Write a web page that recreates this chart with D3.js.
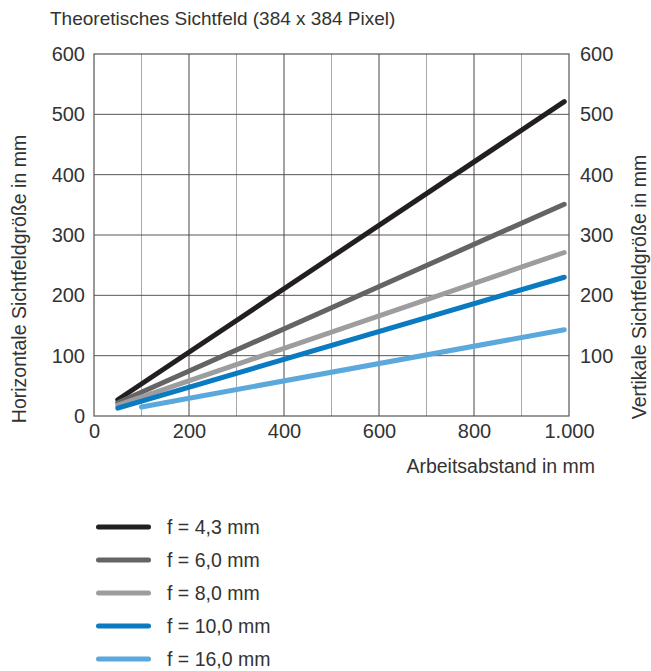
<!DOCTYPE html>
<html>
<head>
<meta charset="utf-8">
<script src="https://cdn.jsdelivr.net/npm/d3@7"></script>
<style>
  body { margin: 0; background: #fff; }
  svg { font-family: "Liberation Sans", Arial, sans-serif; }
</style>
</head>
<body>
<svg id="chart" width="651" height="671"></svg>
<script>
// data
var series = ["f = 4,3 mm", "f = 6,0 mm", "f = 8,0 mm", "f = 10,0 mm", "f = 16,0 mm"];
var colors = ["#231f20", "#646464", "#9d9d9f", "#0a7bc1", "#5aa8dc"];
var startX = [50, 50, 50, 50, 100];
var startY = [27, 22, 18, 13, 15];
var endX = [990, 990, 990, 990, 990];
var endY = [521, 351, 271, 230, 143];
var xTicks = [0, 200, 400, 600, 800, 1000];
var xMinor = [100, 300, 500, 700, 900];
var yTicks = [0, 100, 200, 300, 400, 500, 600];
var yRightTicks = [100, 200, 300, 400, 500, 600];

var svg = d3.select("#chart");
var pLeft = 94, pRight = 569, pTop = 54, pBottom = 416;

var x = d3.scaleLinear().domain([0, 1000]).range([pLeft, pRight]);
var y = d3.scaleLinear().domain([0, 600]).range([pBottom, pTop]);
var fmt = function (d) { return d === 1000 ? "1.000" : d; };

svg.append("text")
  .attr("x", 50).attr("y", 25)
  .attr("font-size", 19).attr("fill", "#333")
  .text("Theoretisches Sichtfeld (384 x 384 Pixel)");

// grid
svg.append("g").selectAll("line").data(xMinor).join("line")
  .attr("x1", x).attr("x2", x).attr("y1", pTop).attr("y2", pBottom)
  .attr("stroke", "#aaa").attr("stroke-width", 1);
svg.append("g").selectAll("line").data(xTicks.slice(1, -1)).join("line")
  .attr("x1", x).attr("x2", x).attr("y1", pTop).attr("y2", pBottom)
  .attr("stroke", "#333").attr("stroke-width", 0.9);
svg.append("g").selectAll("line").data(yTicks.slice(1, -1)).join("line")
  .attr("x1", pLeft).attr("x2", pRight).attr("y1", y).attr("y2", y)
  .attr("stroke", "#444").attr("stroke-width", 0.9);

svg.append("rect")
  .attr("x", pLeft).attr("y", pTop)
  .attr("width", pRight - pLeft).attr("height", pBottom - pTop)
  .attr("fill", "none").attr("stroke", "#555").attr("stroke-width", 1.2);

// axes
var xAxis = d3.axisBottom(x).tickValues(xTicks).tickSize(0).tickPadding(8).tickFormat(fmt);
var yAxis = d3.axisLeft(y).tickValues(yTicks).tickSize(0).tickPadding(9);
var yAxisR = d3.axisRight(y).tickValues(yRightTicks).tickSize(0).tickPadding(11);

[svg.append("g").attr("transform", "translate(0," + pBottom + ")").call(xAxis),
 svg.append("g").attr("transform", "translate(" + pLeft + ",0)").call(yAxis),
 svg.append("g").attr("transform", "translate(" + pRight + ",0)").call(yAxisR)]
  .forEach(function (g) {
    g.select(".domain").remove();
    g.selectAll("text").attr("font-size", 20).attr("fill", "#333")
      .attr("font-family", "Liberation Sans, Arial, sans-serif");
  });

svg.append("text")
  .attr("x", 595).attr("y", 473).attr("text-anchor", "end")
  .attr("font-size", 19.5).attr("fill", "#333")
  .text("Arbeitsabstand in mm");

svg.append("text")
  .attr("transform", "translate(26,279) rotate(-90)")
  .attr("text-anchor", "middle").attr("font-size", 19.5).attr("fill", "#333")
  .text("Horizontale Sichtfeldgröße in mm");

svg.append("text")
  .attr("transform", "translate(646,287) rotate(-90)")
  .attr("text-anchor", "middle").attr("font-size", 19.5).attr("fill", "#333")
  .text("Vertikale Sichtfeldgröße in mm");

// lines
var line = d3.line().x(function (d) { return x(d[0]); }).y(function (d) { return y(d[1]); });
series.forEach(function (s, i) {
  svg.append("path")
    .datum([[startX[i], startY[i]], [endX[i], endY[i]]])
    .attr("d", line)
    .attr("fill", "none")
    .attr("stroke", colors[i])
    .attr("stroke-width", 5)
    .attr("stroke-linecap", "round");
});

// legend
var leg = svg.append("g").selectAll("g").data(series).join("g")
  .attr("transform", function (d, i) { return "translate(0," + (527 + i * 33) + ")"; });
leg.append("line")
  .attr("x1", 98.5).attr("x2", 148.5)
  .attr("stroke", function (d, i) { return colors[i]; })
  .attr("stroke-width", 5).attr("stroke-linecap", "round");
leg.append("text")
  .attr("x", 167).attr("y", 7)
  .attr("font-size", 19.5).attr("fill", "#333")
  .text(function (d) { return d; });
</script>
</body>
</html>
